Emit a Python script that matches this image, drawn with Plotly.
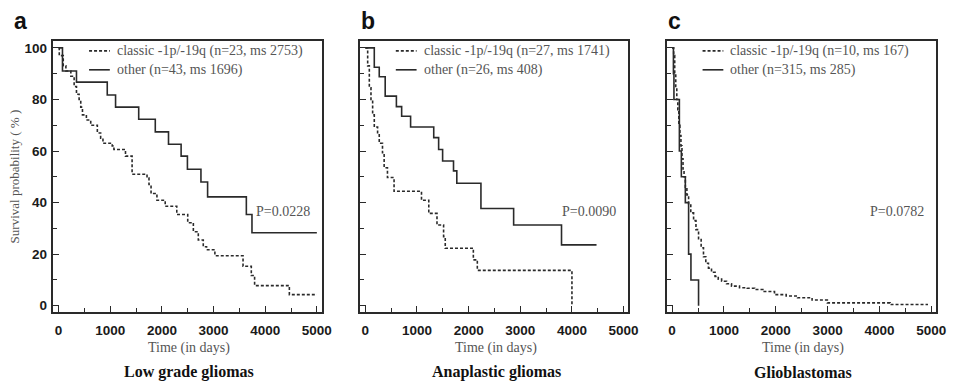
import plotly.graph_objects as go

# ---------------- data ----------------
panel_letters = ["a", "b", "c"]
panel_titles = ["Low grade gliomas", "Anaplastic gliomas", "Glioblastomas"]
p_values = ["P=0.0228", "P=0.0090", "P=0.0782"]
legend_classic = ["classic -1p/-19q (n=23, ms 2753)",
                  "classic -1p/-19q (n=27, ms 1741)",
                  "classic -1p/-19q (n=10, ms 167)"]
legend_other = ["other (n=43, ms 1696)",
                "other (n=26, ms 408)",
                "other (n=315, ms 285)"]

x_ticks = [0, 1000, 2000, 3000, 4000, 5000]
y_ticks = [0, 20, 40, 60, 80, 100]

# Panel a - low grade gliomas
a_other_t = [0, 75, 346, 942, 1103, 1551, 1872, 2128, 2372, 2494, 2756, 2885, 3635, 3744, 5000]
a_other_s = [100, 91, 86.7, 81.7, 77, 72.3, 67.4, 62.6, 58, 52.9, 48, 42.2, 35.4, 28.3, 28.3]
a_classic_t = [0, 13, 90, 141, 237, 301, 346, 397, 429, 462, 538, 622, 750, 814, 859, 1038,
               1071, 1295, 1423, 1712, 1750, 1790, 1904, 2064, 2288, 2500, 2609, 2705, 2801,
               2865, 3026, 3571, 3731, 3795, 4468, 5000]
a_classic_s = [100, 97, 93, 91, 89, 85, 82, 80, 77, 74, 72, 70, 67, 65, 63, 62,
               60.6, 58, 51, 49.5, 47, 43.5, 40.9, 38.6, 35.4, 32.2, 28.7, 25.5, 22.9,
               21.7, 19.4, 15.3, 11.7, 7.8, 4.3, 4.3]

# Panel b - anaplastic gliomas
b_other_t = [0, 173, 269, 384, 601, 703, 876, 1324, 1419, 1496, 1707, 1771, 2238, 2871, 3798, 4476]
b_other_s = [100, 92.5, 88.8, 81.3, 77.2, 73.5, 69.3, 65.2, 60.6, 56.1, 52.3, 47.5, 37.7, 31.3, 23.6, 23.6]
b_classic_t = [0, 45, 77, 109, 141, 173, 237, 269, 332, 364, 428, 556, 1087, 1228, 1387,
               1515, 1547, 2091, 2168, 4000]
b_classic_s = [100, 93, 84.5, 80, 74, 69.3, 66.7, 63, 59.3, 53.5, 49.7, 44.4, 40.9, 35.8, 31.3,
               26.8, 22.3, 17.8, 13.7, 0]

# Panel c - glioblastomas
c_other_t = [0, 25, 35, 140, 178, 255, 318, 363, 510]
c_other_s = [100, 90, 80, 60, 50, 40, 20, 10, 0]
c_classic_t = [0, 30, 50, 70, 90, 110, 130, 150, 170, 190, 210, 230, 255, 285, 318, 360, 414,
               460, 510, 560, 605, 650, 701, 760, 828, 890, 955, 1050, 1146, 1300, 1450, 1592,
               1750, 1975, 2200, 2420, 2700, 2994, 4204, 4936]
c_classic_s = [100, 97, 90, 85, 80, 76, 70, 66, 62, 57, 53, 50, 46, 43, 39.6, 36, 33,
               29.5, 26, 22.5, 19, 16.5, 14.6, 13, 11.4, 10.3, 9.5, 8.5, 7.6, 7.0, 6.8, 6.3,
               5.5, 4.3, 3.8, 3.1, 2.2, 1.1, 0.5, 0.5]

panels = [
    (a_classic_t, a_classic_s, a_other_t, a_other_s),
    (b_classic_t, b_classic_s, b_other_t, b_other_s),
    (c_classic_t, c_classic_s, c_other_t, c_other_s),
]

# ---------------- layout geometry (pixels) ----------------
W, H = 954, 382
left_px = [54, 364, 674]
right_px = [325, 635, 946]
top_px, bottom_px = 41, 313


def px(x):
    return x / W


def py(y):
    return 1 - y / H


LINE = "#2a2a2a"
TEXT_GRAY = "#555555"
SERIF = "Liberation Serif, Times New Roman, serif"
SANS = "Liberation Sans, Arial, sans-serif"
DASH = "3px,2px"

fig = go.Figure()
annotations = []
shapes = []

for i, (ct, cs, ot, os_) in enumerate(panels):
    ax = "" if i == 0 else str(i + 1)
    fig.add_trace(go.Scatter(x=ct, y=cs, mode="lines", line_shape="hv",
                             line=dict(color=LINE, width=1.6, dash=DASH),
                             xaxis="x" + ax, yaxis="y" + ax, showlegend=False,
                             name=legend_classic[i]))
    fig.add_trace(go.Scatter(x=ot, y=os_, mode="lines", line_shape="hv",
                             line=dict(color=LINE, width=1.6),
                             xaxis="x" + ax, yaxis="y" + ax, showlegend=False,
                             name=legend_other[i]))

    xa = dict(domain=[px(left_px[i]), px(right_px[i])], range=[-100, 5092],
              anchor="y" + ax, showgrid=False, zeroline=False,
              showline=True, linecolor=LINE, linewidth=1.6, mirror=True,
              ticks="inside", ticklen=6, tickwidth=1.3, tickcolor=LINE,
              tickvals=x_ticks, ticktext=[str(v) for v in x_ticks],
              minor=dict(ticks="inside", tickvals=[500, 1500, 2500, 3500, 4500],
                         ticklen=4, tickwidth=1.1, tickcolor=LINE),
              tickfont=dict(family=SANS, size=13.5, color="#1a1a1a", weight="bold"),
              ticklabelstandoff=5)
    ya = dict(domain=[py(bottom_px), py(top_px)], range=[-2.5, 102.7],
              anchor="x" + ax, showgrid=False, zeroline=False,
              showline=True, linecolor=LINE, linewidth=1.6, mirror=True,
              ticks="inside", ticklen=6, tickwidth=1.3, tickcolor=LINE,
              tickvals=y_ticks, ticktext=[str(v) for v in y_ticks],
              showticklabels=(i == 0),
              minor=dict(ticks="inside", tickvals=[10, 30, 50, 70, 90],
                         ticklen=4, tickwidth=1.1, tickcolor=LINE),
              tickfont=dict(family=SANS, size=13.5, color="#1a1a1a", weight="bold"),
              ticklabelstandoff=2)
    fig.update_layout(**{"xaxis" + ax: xa, "yaxis" + ax: ya})

    L, R = left_px[i], right_px[i]
    cx = (L + R) / 2
    # panel letter
    annotations.append(dict(x=px(L - 42 if i == 0 else L - 1), y=py(21), xref="paper", yref="paper",
                            text=panel_letters[i], showarrow=False, xanchor="left", yanchor="middle",
                            font=dict(family=SANS, size=23, color="#111", weight="bold")))
    # legend
    shapes.append(dict(type="line", xref="paper", yref="paper",
                       x0=px(L + 36), x1=px(L + 57), y0=py(51), y1=py(51),
                       line=dict(color=LINE, width=1.6, dash=DASH)))
    shapes.append(dict(type="line", xref="paper", yref="paper",
                       x0=px(L + 36), x1=px(L + 57), y0=py(70), y1=py(70),
                       line=dict(color=LINE, width=1.6)))
    annotations.append(dict(x=px(L + 62), y=py(51), xref="paper", yref="paper",
                            text=legend_classic[i], showarrow=False, xanchor="left", yanchor="middle",
                            font=dict(family=SERIF, size=14, color=TEXT_GRAY)))
    annotations.append(dict(x=px(L + 62), y=py(70), xref="paper", yref="paper",
                            text=legend_other[i], showarrow=False, xanchor="left", yanchor="middle",
                            font=dict(family=SERIF, size=14, color=TEXT_GRAY)))
    # p value
    annotations.append(dict(x=px(R - 10), y=py(212), xref="paper", yref="paper",
                            text=p_values[i], showarrow=False, xanchor="right", yanchor="middle",
                            font=dict(family=SERIF, size=14, color=TEXT_GRAY)))
    # x title + panel subtitle
    annotations.append(dict(x=px(cx + 2), y=py(349), xref="paper", yref="paper",
                            text="Time (in days)", showarrow=False, xanchor="center", yanchor="middle",
                            font=dict(family=SERIF, size=14, color=TEXT_GRAY)))
    annotations.append(dict(x=px(cx + 2), y=py(373), xref="paper", yref="paper",
                            text=panel_titles[i], showarrow=False, xanchor="center", yanchor="middle",
                            font=dict(family=SERIF, size=16, color="#111", weight="bold")))

# y axis title
annotations.append(dict(x=px(15), y=py(177), xref="paper", yref="paper",
                        text="Survival probability ( % )", textangle=-90, showarrow=False,
                        xanchor="center", yanchor="middle",
                        font=dict(family=SERIF, size=13, color=TEXT_GRAY)))

fig.update_layout(width=W, height=H, margin=dict(l=0, r=0, t=0, b=0),
                  paper_bgcolor="white", plot_bgcolor="white",
                  annotations=annotations, shapes=shapes, showlegend=False)

fig.write_html("out.html", config={"displayModeBar": False},
               post_script="document.body.style.margin='0';document.body.style.overflow='hidden';")
